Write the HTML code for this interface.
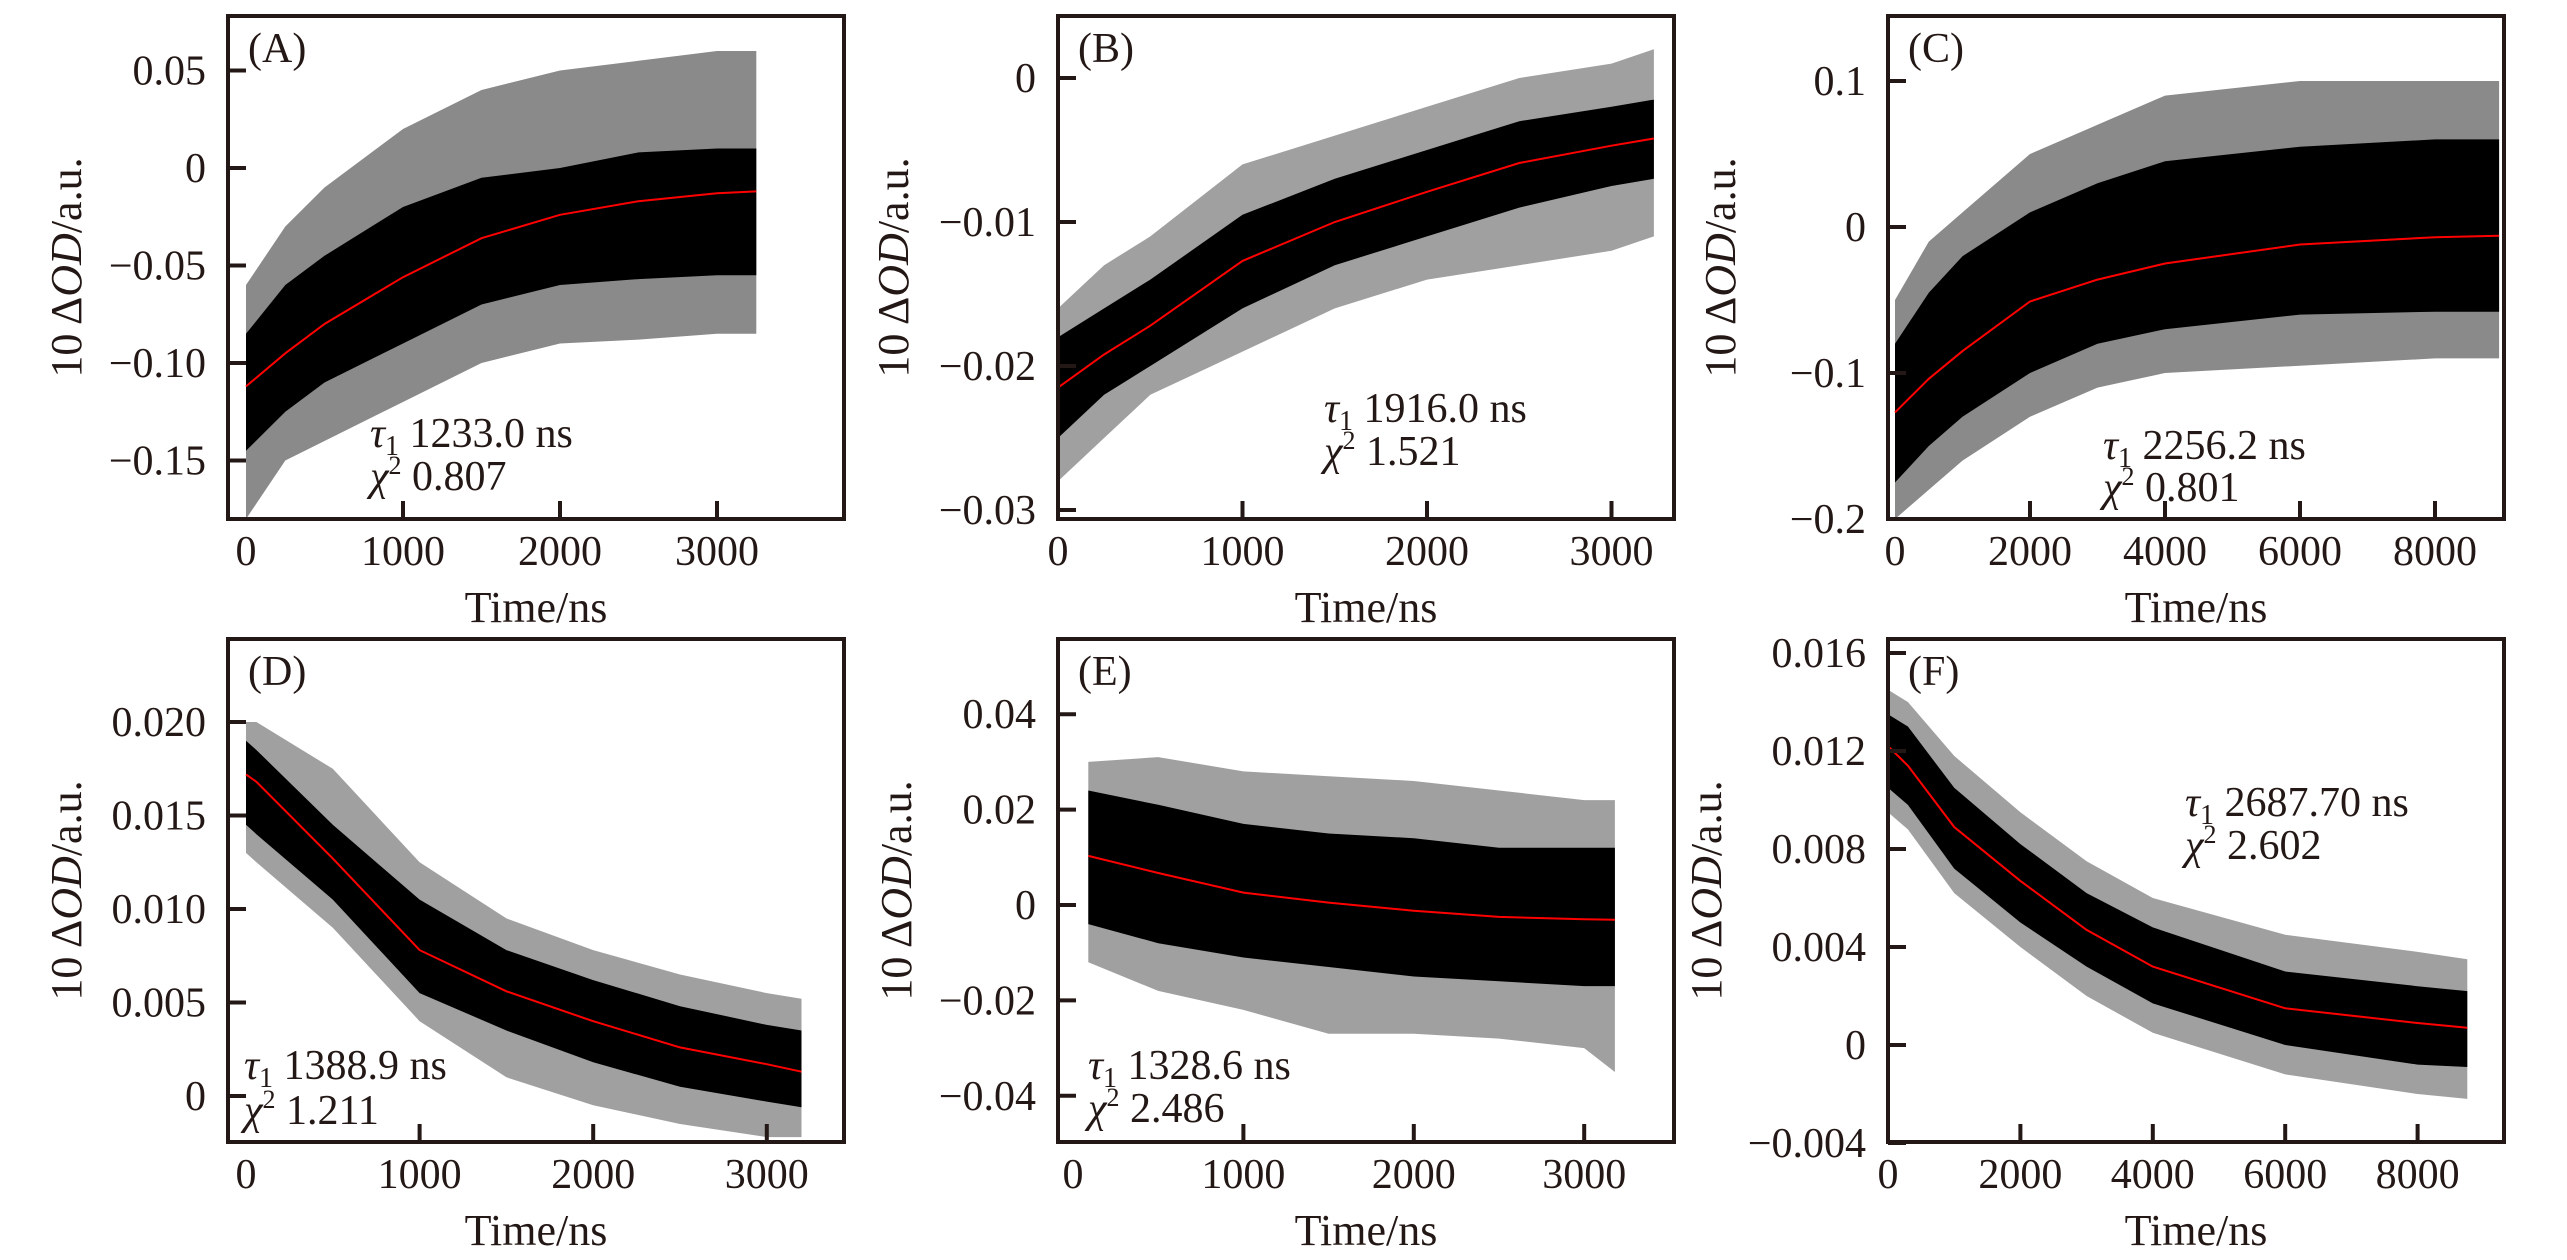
<!DOCTYPE html>
<html><head><meta charset="utf-8"><style>
html,body{margin:0;padding:0;background:#fff;}
svg{display:block;font-family:"Liberation Serif","DejaVu Serif",serif;}
</style></head><body>
<svg id="fig" width="2567" height="1260" viewBox="0 0 2567 1260" xmlns="http://www.w3.org/2000/svg"></svg>
<script>
// ---- data ----
const aTimes=[0,250,500,1000,1500,2000,2500,3000,3250];
const aFit=[-0.112,-0.095,-0.080,-0.056,-0.036,-0.024,-0.017,-0.013,-0.012];
const aCoreHi=[-0.085,-0.06,-0.045,-0.02,-0.005,0.0,0.008,0.01,0.01];
const aCoreLo=[-0.145,-0.125,-0.11,-0.09,-0.07,-0.06,-0.057,-0.055,-0.055];
const aOutHi=[-0.06,-0.03,-0.01,0.02,0.04,0.05,0.055,0.06,0.06];
const aOutLo=[-0.18,-0.15,-0.14,-0.12,-0.1,-0.09,-0.088,-0.085,-0.085];

const bTimes=[0,250,500,1000,1500,2000,2500,3000,3230];
const bFit=[-0.0215,-0.0192,-0.0172,-0.0127,-0.0100,-0.0079,-0.0059,-0.0047,-0.0042];
const bCoreHi=[-0.018,-0.016,-0.014,-0.0095,-0.007,-0.005,-0.003,-0.002,-0.0015];
const bCoreLo=[-0.025,-0.022,-0.020,-0.016,-0.013,-0.011,-0.009,-0.0075,-0.007];
const bOutHi=[-0.016,-0.013,-0.011,-0.006,-0.004,-0.002,0.0,0.001,0.002];
const bOutLo=[-0.028,-0.025,-0.022,-0.019,-0.016,-0.014,-0.013,-0.012,-0.011];

const cTimes=[0,500,1000,2000,3000,4000,6000,8000,8950];
const cFit=[-0.127,-0.104,-0.085,-0.051,-0.036,-0.025,-0.012,-0.007,-0.006];
const cCoreHi=[-0.08,-0.045,-0.02,0.01,0.03,0.045,0.055,0.06,0.06];
const cCoreLo=[-0.175,-0.15,-0.13,-0.1,-0.08,-0.07,-0.06,-0.058,-0.058];
const cOutHi=[-0.05,-0.01,0.01,0.05,0.07,0.09,0.1,0.1,0.1];
const cOutLo=[-0.2,-0.18,-0.16,-0.13,-0.11,-0.1,-0.095,-0.09,-0.09];

const dTimes=[0,60,500,1000,1500,2000,2500,3000,3200];
const dFit=[0.0172,0.0168,0.0127,0.0078,0.0056,0.0040,0.0026,0.0017,0.0013];
const dCoreHi=[0.019,0.0185,0.0145,0.0105,0.0078,0.0062,0.0048,0.0038,0.0035];
const dCoreLo=[0.0145,0.014,0.0105,0.0055,0.0035,0.0018,0.0005,-0.0003,-0.0006];
const dOutHi=[0.020,0.020,0.0175,0.0125,0.0095,0.0078,0.0065,0.0055,0.0052];
const dOutLo=[0.013,0.0125,0.009,0.004,0.001,-0.0005,-0.0015,-0.0022,-0.0022];

const eTimes=[90,500,1000,1500,2000,2500,3000,3180];
const eFit=[0.0103,0.0067,0.0026,0.0005,-0.0012,-0.0025,-0.0030,-0.0031];
const eCoreHi=[0.024,0.021,0.017,0.015,0.014,0.012,0.012,0.012];
const eCoreLo=[-0.004,-0.008,-0.011,-0.013,-0.015,-0.016,-0.017,-0.017];
const eOutHi=[0.03,0.031,0.028,0.027,0.026,0.024,0.022,0.022];
const eOutLo=[-0.012,-0.018,-0.022,-0.027,-0.027,-0.028,-0.03,-0.035];

const fTimes=[0,300,1000,2000,3000,4000,6000,8000,8750];
const fFit=[0.0122,0.0114,0.0089,0.0067,0.0047,0.0032,0.0015,0.0009,0.0007];
const fCoreHi=[0.0135,0.013,0.0105,0.0082,0.0062,0.0048,0.003,0.0024,0.0022];
const fCoreLo=[0.0105,0.0098,0.0072,0.005,0.0032,0.0017,0.0,-0.0008,-0.0009];
const fOutHi=[0.0145,0.014,0.0118,0.0095,0.0075,0.006,0.0045,0.0038,0.0035];
const fOutLo=[0.0095,0.0088,0.0062,0.004,0.002,0.0005,-0.0012,-0.002,-0.0022];

const aYTicks=[0.05,0,-0.05,-0.10,-0.15];
const aYLabels=["0.05","0","\u22120.05","\u22120.10","\u22120.15"];
const bYTicks=[0,-0.01,-0.02,-0.03];
const bYLabels=["0","\u22120.01","\u22120.02","\u22120.03"];
const cYTicks=[0.1,0,-0.1,-0.2];
const cYLabels=["0.1","0","\u22120.1","\u22120.2"];
const dYTicks=[0.020,0.015,0.010,0.005,0];
const dYLabels=["0.020","0.015","0.010","0.005","0"];
const eYTicks=[0.04,0.02,0,-0.02,-0.04];
const eYLabels=["0.04","0.02","0","\u22120.02","\u22120.04"];
const fYTicks=[0.016,0.012,0.008,0.004,0,-0.004];
const fYLabels=["0.016","0.012","0.008","0.004","0","\u22120.004"];
const shortXTicks=[0,1000,2000,3000];
const longXTicks=[0,2000,4000,6000,8000];

const NS="http://www.w3.org/2000/svg";
const svg=document.getElementById('fig');
function el(tag,attrs,parent){const e=document.createElementNS(NS,tag);for(const k in attrs)e.setAttribute(k,attrs[k]);(parent||svg).appendChild(e);return e;}

const panels=[
 {id:'a',L:228,T:16,R:844,B:519,x0:246,kx:0.157,y0:168,ky:1950,times:aTimes,fit:aFit,ch:aCoreHi,cl:aCoreLo,oh:aOutHi,ol:aOutLo,yt:aYTicks,yl:aYLabels,xt:shortXTicks,lab:'(A)',tau:'1233.0 ns',chi:'0.807',tx:370,tb:447,cb:490,ylx:66,og:'#8a8a8a'},
 {id:'b',L:1058,T:16,R:1674,B:519,x0:1058,kx:0.1845,y0:78,ky:14400,times:bTimes,fit:bFit,ch:bCoreHi,cl:bCoreLo,oh:bOutHi,ol:bOutLo,yt:bYTicks,yl:bYLabels,xt:shortXTicks,lab:'(B)',tau:'1916.0 ns',chi:'1.521',tx:1324,tb:422,cb:465,ylx:893,og:'#a0a0a0'},
 {id:'c',L:1888,T:16,R:2504,B:519,x0:1895,kx:0.0675,y0:227,ky:1460,times:cTimes,fit:cFit,ch:cCoreHi,cl:cCoreLo,oh:cOutHi,ol:cOutLo,yt:cYTicks,yl:cYLabels,xt:longXTicks,lab:'(C)',tau:'2256.2 ns',chi:'0.801',tx:2103,tb:459,cb:501,ylx:1720,og:'#8a8a8a'},
 {id:'d',L:228,T:639,R:844,B:1142,x0:246,kx:0.1736,y0:1096,ky:18700,times:dTimes,fit:dFit,ch:dCoreHi,cl:dCoreLo,oh:dOutHi,ol:dOutLo,yt:dYTicks,yl:dYLabels,xt:shortXTicks,lab:'(D)',tau:'1388.9 ns',chi:'1.211',tx:244,tb:1079,cb:1124,ylx:66,og:'#a0a0a0'},
 {id:'e',L:1058,T:639,R:1674,B:1142,x0:1073,kx:0.1704,y0:905,ky:4770,times:eTimes,fit:eFit,ch:eCoreHi,cl:eCoreLo,oh:eOutHi,ol:eOutLo,yt:eYTicks,yl:eYLabels,xt:shortXTicks,lab:'(E)',tau:'1328.6 ns',chi:'2.486',tx:1088,tb:1079,cb:1122,ylx:896,og:'#a0a0a0'},
 {id:'f',L:1888,T:639,R:2504,B:1142,x0:1888,kx:0.0662,y0:1045,ky:24500,times:fTimes,fit:fFit,ch:fCoreHi,cl:fCoreLo,oh:fOutHi,ol:fOutLo,yt:fYTicks,yl:fYLabels,xt:longXTicks,lab:'(F)',tau:'2687.70 ns',chi:'2.602',tx:2185,tb:816,cb:859,ylx:1706,og:'#a0a0a0'}
];

panels.forEach(p=>{
 const X=t=>p.x0+t*p.kx;
 const Y=v=>p.y0-v*p.ky;
 const g=el('g',{});
 
 
 const cp=el('clipPath',{id:'clip-'+p.id},g);
 el('rect',{x:p.L,y:p.T,width:p.R-p.L,height:p.B-p.T},cp);
 const band=(hi,lo,fill,name)=>{
  let pts=[];
  p.times.forEach((t,i)=>pts.push(X(t).toFixed(1)+','+Y(hi[i]).toFixed(1)));
  for(let i=p.times.length-1;i>=0;i--)pts.push(X(p.times[i]).toFixed(1)+','+Y(lo[i]).toFixed(1));
  const poly=el('polygon',{points:pts.join(' '),fill:fill,'clip-path':'url(#clip-'+p.id+')'},g);
  
  
 };
 band(p.oh,p.ol,p.og,'noise-envelope-'+p.id);
 band(p.ch,p.cl,'#000','data-trace-'+p.id);
 const fitPts=p.times.map((t,i)=>X(t).toFixed(1)+','+Y(p.fit[i]).toFixed(1)).join(' ');
 const fl=el('polyline',{points:fitPts,fill:'none',stroke:'#ff0000','stroke-width':2,'clip-path':'url(#clip-'+p.id+')'},g);
 
 
 const box=el('rect',{x:p.L,y:p.T,width:p.R-p.L,height:p.B-p.T,fill:'none',stroke:'#231815','stroke-width':4},g);
 
 
 p.yt.forEach((v,i)=>{
  const y=Y(v);
  el('line',{x1:p.L,x2:p.L+18,y1:y,y2:y,stroke:'#231815','stroke-width':4},g);
  const tx=el('text',{x:p.L-22,y:y+14,'text-anchor':'end','font-size':42,fill:'#231815'},g);
  tx.textContent=p.yl[i];
  
  
 });
 p.xt.forEach(t=>{
  const x=X(t);
  if(t>0) el('line',{x1:x,x2:x,y1:p.B,y2:p.B-18,stroke:'#231815','stroke-width':4},g);
  const tx=el('text',{x:x,y:p.B+46,'text-anchor':'middle','font-size':42,fill:'#231815'},g);
  tx.textContent=String(t);
  
  
 });
 const xt=el('text',{x:(p.L+p.R)/2,y:p.B+103,'text-anchor':'middle','font-size':44,fill:'#231815'},g);
 xt.textContent='Time/ns';
 
 
 const cy=(p.T+p.B)/2;
 const yt=el('text',{x:p.ylx,y:cy,'text-anchor':'middle','font-size':44,fill:'#231815',transform:'rotate(-90 '+p.ylx+' '+cy+') translate(0 15)'},g);
 yt.innerHTML='10 \u0394<tspan font-style="italic">OD</tspan>/a.u.';
 
 
 const lb=el('text',{x:p.L+20,y:p.T+46,'font-size':42,fill:'#231815'},g);
 lb.textContent=p.lab;
 
 
 const t1=el('text',{x:p.tx,y:p.tb,'font-size':42,fill:'#231815'},g);
 t1.innerHTML='<tspan font-style="italic">\u03c4</tspan><tspan font-size="28" dy="8">1</tspan><tspan dy="-8"> '+p.tau+'</tspan>';
 
 
 const t2=el('text',{x:p.tx,y:p.cb,'font-size':42,fill:'#231815'},g);
 t2.innerHTML='<tspan font-style="italic">\u03c7</tspan><tspan font-size="26" dy="-16">2</tspan><tspan dy="16"> '+p.chi+'</tspan>';
 
 
});
</script>
</body></html>
